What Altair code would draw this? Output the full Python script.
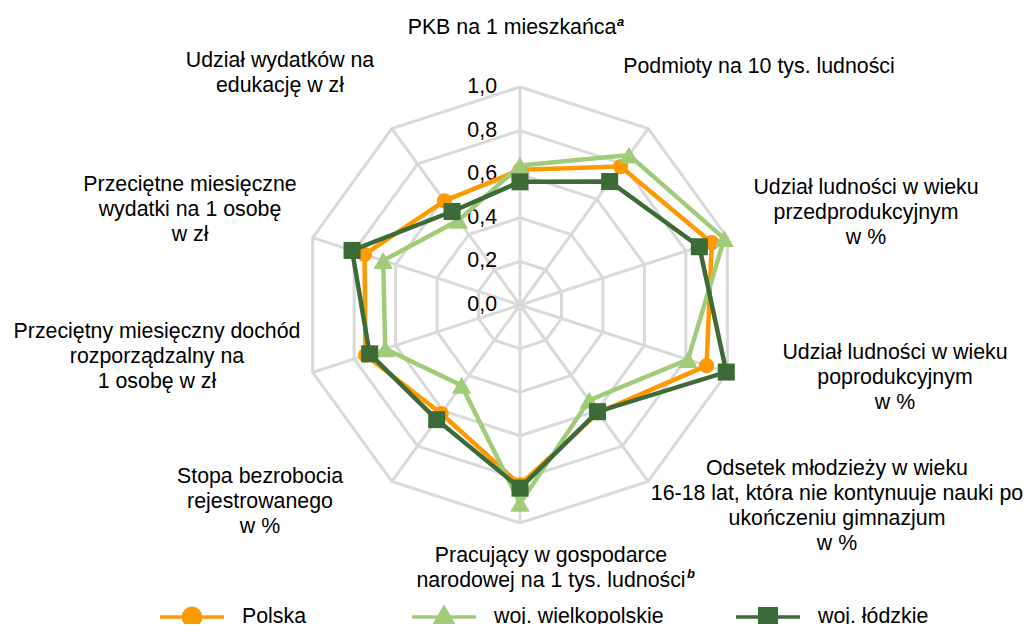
import altair as alt
import pandas as pd

# ---------------- data ----------------
CATEGORIES = [
    "PKB na 1 mieszkańca",
    "Podmioty na 10 tys. ludności",
    "Udział ludności w wieku\nprzedprodukcyjnym\nw %",
    "Udział ludności w wieku\npoprodukcyjnym\nw %",
    "Odsetek młodzieży w wieku\n16-18 lat, która nie kontynuuje nauki po\nukończeniu gimnazjum\nw %",
    "Pracujący w gospodarce\nnarodowej na 1 tys. ludności",
    "Stopa bezrobocia\nrejestrowanego\nw %",
    "Przeciętny miesięczny dochód\nrozporządzalny na\n1 osobę w zł",
    "Przeciętne miesięczne\nwydatki na 1 osobę\nw zł",
    "Udział wydatków na\nedukację w zł",
]
SERIES = ["Polska", "woj. wielkopolskie", "woj. łódzkie"]
POLSKA = [0.62, 0.785, 0.925, 0.90, 0.61, 0.825, 0.615, 0.745, 0.75, 0.59]
WIELKOPOLSKIE = [0.64, 0.85, 0.985, 0.81, 0.54, 0.91, 0.456, 0.65, 0.66, 0.48]
LODZKIE = [0.565, 0.70, 0.865, 0.995, 0.605, 0.84, 0.65, 0.725, 0.81, 0.53]
TICKS = [0.0, 0.2, 0.4, 0.6, 0.8, 1.0]
TICK_LABELS = ["0,0", "0,2", "0,4", "0,6", "0,8", "1,0"]
FOOTNOTES = ["a", "b"]  # superscripts attached to categories 0 and 5

# ---------------- layout / style ----------------
W, H = 1016, 616
S = 218.0            # px per unit radius
CX, CY = 512, 297    # centre of the radar in plot px
PAGE = 8
FONT = "Liberation Sans"
FS = 21.33
COLORS = ["#FF9900", "#A0CC7A", "#3C6B37"]
SHAPES = ["circle", "triangle-up", "square"]
SIZES = [230, 380, 290]
# label anchors (page px): centre x, first baseline y
LABEL_PX = [(512, 34), (759, 73), (866, 194), (895, 359), (837, 475),
            (551, 562), (260, 483), (157, 338), (190, 191), (280, 67)]
FOOT_PX = [(617, 26), (687, 578)]
LEGEND_X = [158, 410, 734]   # page px of each legend entry's left edge
LEGEND_Y = 615               # page px of legend centre line
LEGEND_PATHS = [
    "M-1,0H1M0.27,0A0.27,0.27,0,1,1,-0.27,0A0.27,0.27,0,1,1,0.27,0Z",
    "M-1,0H1M0,-0.29L0.31,0.25L-0.31,0.25Z",
    "M-1,0H1M-0.26,-0.26H0.26V0.26H-0.26Z",
]

xs = alt.Scale(domain=[-CX / S, (W - CX) / S], nice=False, zero=False)
ys = alt.Scale(domain=[-(H - CY) / S, CY / S], nice=False, zero=False)


def X(f):
    return alt.X(f, type="quantitative", scale=xs, axis=None)


def Y(f):
    return alt.Y(f, type="quantitative", scale=ys, axis=None)


def to_ux(px):
    return (px - PAGE - CX) / S


def to_uy(py):
    return (CY - (py - PAGE)) / S


N = len(CATEGORIES)
ANG = f"datum.idx*2*PI/{N}"

# series table (closed polygons)
rows = []
for s, vals in zip(SERIES, [POLSKA, WIELKOPOLSKIE, LODZKIE]):
    for i in range(N + 1):
        rows.append({"series": s, "idx": i, "value": vals[i % N]})
df = pd.DataFrame(rows)

# grid rings and spokes
ring = pd.DataFrame([{"level": t, "idx": i} for t in TICKS[1:] for i in range(N + 1)])
spokes = pd.DataFrame({"idx": list(range(N)), "level": [TICKS[-1]] * N})

rings = alt.Chart(ring).transform_calculate(
    ang=ANG, gx="datum.level*sin(datum.ang)", gy="datum.level*cos(datum.ang)"
).mark_line(color="#D9D9D9", strokeWidth=3).encode(
    x=X("gx"), y=Y("gy"), detail="level:N", order="idx:Q"
)
spoke = alt.Chart(spokes).transform_calculate(
    ang=ANG, z="0", gx="datum.level*sin(datum.ang)", gy="datum.level*cos(datum.ang)"
).mark_rule(color="#D9D9D9", strokeWidth=3).encode(
    x=X("z"), y=Y("z"), x2="gx:Q", y2="gy:Q"
)

ticks = alt.Chart(pd.DataFrame({"v": TICKS, "lab": TICK_LABELS})).transform_calculate(
    z="0"
).mark_text(align="right", baseline="middle", dx=-23, fontSize=FS, font=FONT, color="black").encode(
    x=X("z"), y=Y("v"), text="lab:N"
)

labdf = pd.DataFrame({
    "lab": CATEGORIES,
    "lx": [to_ux(p[0]) for p in LABEL_PX],
    "ly": [to_uy(p[1]) for p in LABEL_PX],
})
labels = alt.Chart(labdf).mark_text(
    align="center", baseline="alphabetic", fontSize=FS, font=FONT, color="black",
    lineBreak="\n", lineHeight=25
).encode(x=X("lx"), y=Y("ly"), text="lab:N")

footdf = pd.DataFrame({
    "lab": FOOTNOTES,
    "lx": [to_ux(p[0]) for p in FOOT_PX],
    "ly": [to_uy(p[1]) for p in FOOT_PX],
})
foot = alt.Chart(footdf).mark_text(
    align="left", baseline="alphabetic", fontSize=13, font=FONT, fontStyle="italic",
    fontWeight="bold", color="black"
).encode(x=X("lx"), y=Y("ly"), text="lab:N")

layers = [rings, spoke, ticks, labels, foot]
for s, c, sh, sz in zip(SERIES, COLORS, SHAPES, SIZES):
    base = alt.Chart(df).transform_filter(alt.datum.series == s).transform_calculate(
        ang=ANG, px="datum.value*sin(datum.ang)", py="datum.value*cos(datum.ang)"
    )
    layers.append(base.mark_line(color=c, strokeWidth=4.5).encode(
        x=X("px"), y=Y("py"), order="idx:Q"))
    layers.append(base.transform_filter(f"datum.idx < {N}").mark_point(
        filled=True, shape=sh, size=sz, color=c, opacity=1).encode(x=X("px"), y=Y("py")))

# one native legend entry per series, each placed on its own
for s, c, path, lx in zip(SERIES, COLORS, LEGEND_PATHS, LEGEND_X):
    leg = alt.Legend(
        title=None, orient="none", legendX=lx - PAGE, legendY=LEGEND_Y - PAGE - 32,
        direction="horizontal", symbolSize=4096, symbolStrokeWidth=3.5, symbolOpacity=1,
        labelFontSize=FS, labelFont=FONT, labelColor="black", labelOffset=16,
        labelLimit=400, padding=0,
    )
    sc = alt.Scale(domain=[s], range=[c])
    layers.append(
        alt.Chart(df).transform_filter(alt.datum.series == s).transform_filter("datum.idx == 0")
        .mark_point(opacity=1, strokeWidth=3.5)
        .encode(
            x=alt.value(-3000), y=alt.value(-3000),
            fill=alt.Fill("series:N", scale=sc, legend=leg),
            stroke=alt.Stroke("series:N", scale=sc, legend=leg),
            shape=alt.Shape("series:N", scale=alt.Scale(domain=[s], range=[path]), legend=leg),
        )
    )

chart = alt.layer(*layers).resolve_scale(
    fill="independent", stroke="independent", shape="independent"
).properties(
    width=W, height=H, autosize=alt.AutoSizeParams(type="none"), padding=0,
    background="white"
).configure_view(stroke=None)

chart.save("out.html", embed_options={"renderer": "svg", "actions": False})
